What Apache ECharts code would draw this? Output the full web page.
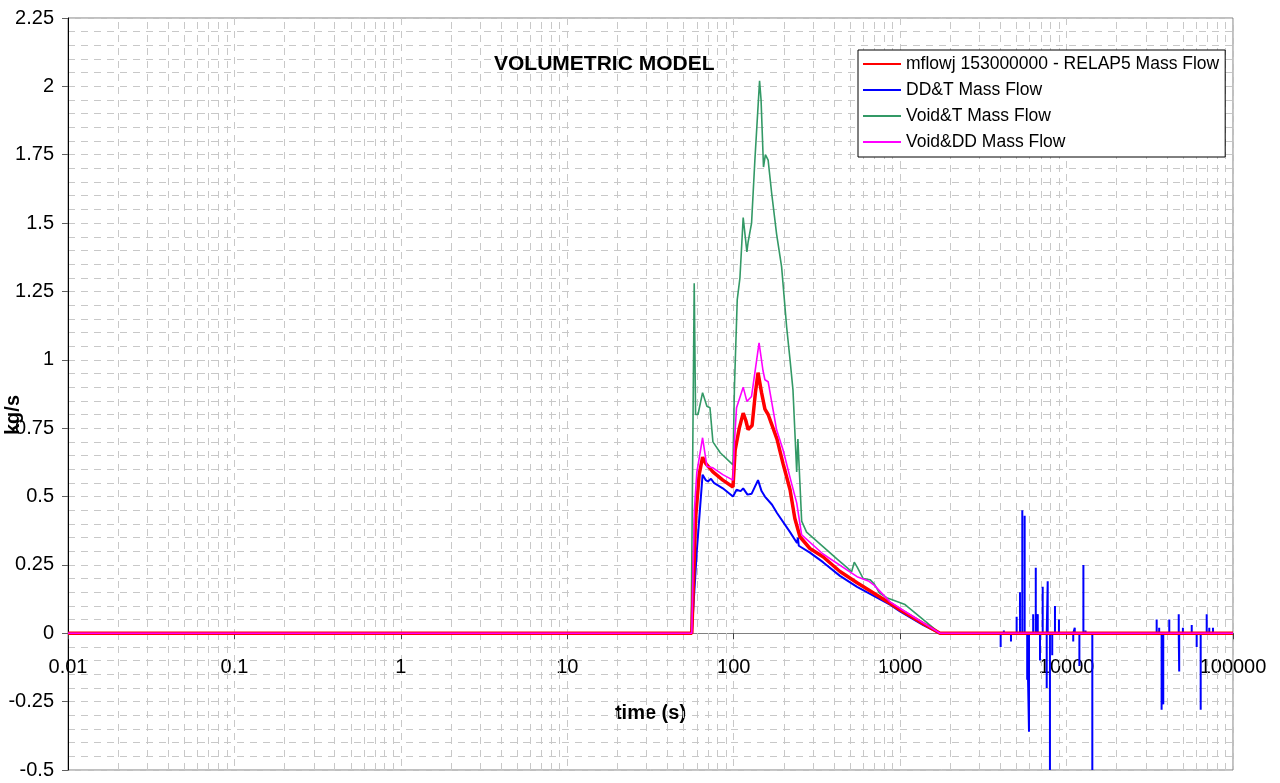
<!DOCTYPE html>
<html>
<head>
<meta charset="utf-8">
<title>Volumetric model</title>
<script src="https://cdn.jsdelivr.net/npm/echarts@6.0.0/dist/echarts.min.js"></script>
<style>
  html, body { margin: 0; padding: 0; background: #fff; }
  #chart { width: 1280px; height: 783px; }
</style>
</head>
<body>
<div id="chart"></div>
<script>
// ---------------- data (time s / kg/s) ----------------
var redT = [0.01, 56, 59, 62, 65, 68, 75, 86, 99, 102, 108, 114, 118, 122, 129, 135, 140, 147, 154, 161, 170, 182, 198, 218, 233, 250, 287, 344, 435, 551, 869, 998, 1377, 1735, 100000];
var redV = [0, 0, 0.42, 0.58, 0.644, 0.62, 0.59, 0.56, 0.535, 0.67, 0.75, 0.805, 0.78, 0.745, 0.76, 0.88, 0.953, 0.88, 0.82, 0.80, 0.76, 0.71, 0.62, 0.525, 0.42, 0.353, 0.31, 0.28, 0.226, 0.185, 0.11, 0.086, 0.035, 0, 0];

var blueT = [0.01, 56, 60, 65, 68, 70, 73, 76, 86, 99, 104, 110, 114, 121, 128, 140, 147, 154, 170, 182, 218, 240, 243, 246, 250, 287, 344, 435, 551, 869, 998, 1377, 1735, 3900];
var blueV = [0, 0, 0.3, 0.58, 0.56, 0.555, 0.565, 0.55, 0.53, 0.50, 0.525, 0.52, 0.53, 0.507, 0.51, 0.56, 0.52, 0.50, 0.47, 0.44, 0.37, 0.33, 0.35, 0.32, 0.325, 0.295, 0.26, 0.21, 0.17, 0.105, 0.08, 0.03, 0, 0];

// blue noise after 4000 s
var spikeT = [4018, 4200, 4634, 5012, 5248, 5420, 5600, 5800, 5946, 6300, 6531, 6714, 6924, 7188, 7598, 7703, 7945, 8200, 8517, 9000, 10965, 11200, 11940, 12620, 13000, 14280, 34780, 36000, 37240, 38100, 41400, 47200, 47500, 50000, 56500, 60500, 63950, 69500, 72000, 75800];
var spikeV = [-0.05, 0.01, -0.03, 0.06, 0.15, 0.45, 0.43, -0.17, -0.36, 0.07, 0.24, 0.07, -0.1, 0.17, -0.2, 0.19, -0.5, -0.08, 0.10, 0.05, -0.03, 0.02, -0.12, 0.25, 0.01, -0.5, 0.05, 0.02, -0.28, -0.26, 0.05, 0.07, -0.14, 0.02, 0.03, -0.05, -0.28, 0.07, 0.02, 0.02];

var greenT = [0.01, 55.5, 57.9, 59, 61, 65, 69, 72, 75, 83, 99, 101, 105, 109, 114, 120, 122, 128, 134, 143, 146, 151, 155, 161, 169, 181, 194, 208, 218, 227, 239, 243, 256, 274, 344, 420, 480, 511, 530, 551, 600, 659, 700, 750, 830, 1070, 1735, 100000];
var greenV = [0, 0, 1.28, 0.80, 0.80, 0.88, 0.83, 0.825, 0.70, 0.66, 0.616, 0.9, 1.22, 1.30, 1.52, 1.395, 1.43, 1.50, 1.73, 2.02, 1.95, 1.705, 1.75, 1.73, 1.61, 1.46, 1.34, 1.12, 1.0, 0.89, 0.59, 0.71, 0.41, 0.37, 0.317, 0.27, 0.24, 0.225, 0.26, 0.243, 0.2, 0.196, 0.18, 0.148, 0.13, 0.105, 0, 0];

var magT = [0.01, 56, 58, 60, 65, 69, 75, 86, 99, 101, 104, 114, 120, 128, 142, 150, 154, 161, 181, 198, 220, 239, 256, 344, 551, 650, 700, 869, 1030, 1735, 100000];
var magV = [0, 0, 0.45, 0.587, 0.715, 0.61, 0.605, 0.58, 0.56, 0.70, 0.825, 0.90, 0.848, 0.866, 1.062, 0.96, 0.927, 0.92, 0.744, 0.67, 0.56, 0.477, 0.36, 0.29, 0.207, 0.19, 0.175, 0.115, 0.086, 0, 0];

var names = ['mflowj 153000000 - RELAP5 Mass Flow', 'DD&T Mass Flow', 'Void&T Mass Flow', 'Void&DD Mass Flow'];

function zip(t, v) {
  var out = [];
  for (var i = 0; i < t.length; i++) out.push([t[i], v[i]]);
  return out;
}

var blueData = zip(blueT, blueV);
for (var i = 0; i < spikeT.length; i++) {
  blueData.push([spikeT[i], 0], [spikeT[i], spikeV[i]], [spikeT[i], 0]);
}
blueData.push([100000, 0]);

// log minor grid lines 2..9 per decade
var minorGrid = [];
for (var d = -2; d <= 4; d++) {
  for (var k = 2; k <= 9; k++) minorGrid.push({ xAxis: k * Math.pow(10, d) });
}

var yMin = -0.5, yMax = 2.25;
var gridTop = 18, gridBottom = 13, chartH = 783;
// x axis sits on y = 0 (moved up from the bottom of the grid)
var plotH = chartH - gridTop - gridBottom;
var xAxisOffset = -plotH * (0 - yMin) / (yMax - yMin);

var gridStyle = { color: '#c8c8c8', width: 1, type: [7, 6] };
var font = 'Liberation Sans, Arial, sans-serif';

var myChart = echarts.init(document.getElementById('chart'));
var option = {
  animation: false,
  textStyle: { fontFamily: font },
  title: {
    text: 'VOLUMETRIC MODEL',
    left: 489,
    top: 49,
    textStyle: { fontSize: 21, fontWeight: 'bold', color: '#000', fontFamily: font }
  },
  legend: {
    orient: 'vertical',
    left: 858,
    top: 50,
    data: names,
    backgroundColor: '#fff',
    borderColor: '#000',
    borderWidth: 1,
    padding: [5, 6, 6, 4],
    itemWidth: 38,
    itemHeight: 14,
    itemGap: 8,
    itemTextGap: 4,
    itemStyle: { color: 'rgba(0,0,0,0)', borderColor: 'rgba(0,0,0,0)', borderWidth: 0 },
    textStyle: { fontSize: 17.5, color: '#000', lineHeight: 18, fontFamily: font }
  },
  grid: {
    left: 68, right: 47, top: gridTop, bottom: gridBottom,
    outerBoundsMode: 'none',
    containLabel: false,
    show: true,
    borderColor: '#808080',
    borderWidth: 1
  },
  xAxis: {
    type: 'log',
    logBase: 10,
    min: 0.01,
    max: 100000,
    splitNumber: 7,
    position: 'bottom',
    offset: xAxisOffset,
    name: 'time (s)',
    nameLocation: 'middle',
    nameGap: 70,
    nameTextStyle: { fontSize: 20, fontWeight: 'bold', color: '#000', fontFamily: font },
    axisLine: { onZero: false, lineStyle: { color: '#808080' } },
    axisTick: { show: true, length: 6, lineStyle: { color: '#404040' } },
    axisLabel: {
      interval: 0, margin: 24, fontSize: 20, color: '#000', fontFamily: font,
      formatter: function (v) { return String(v); }
    },
    splitLine: { show: true, lineStyle: gridStyle }
  },
  yAxis: {
    type: 'value',
    min: yMin,
    max: yMax,
    interval: 0.25,
    axisLine: { show: true, onZero: false, lineStyle: { color: '#000' } },
    axisTick: { show: true, length: 6, lineStyle: { color: '#606060' } },
    axisLabel: { margin: 14, fontSize: 20, color: '#000', fontFamily: font },
    splitLine: { show: true, lineStyle: gridStyle },
    minorTick: { show: false, splitNumber: 5 },
    minorSplitLine: { show: true, lineStyle: gridStyle }
  },
  graphic: [{
    type: 'text',
    x: 13,
    y: 415,
    rotation: Math.PI / 2,
    style: {
      text: 'kg/s',
      fontSize: 20,
      fontWeight: 'bold',
      fontFamily: font,
      fill: '#000',
      textAlign: 'center',
      textVerticalAlign: 'middle'
    }
  }],
  series: [{
    name: names[1],
    type: 'line',
    symbol: 'none',
    color: '#0000ff',
    lineStyle: { width: 2 },
    data: blueData,
    markLine: {
      silent: true,
      symbol: 'none',
      z: 1,
      label: { show: false },
      lineStyle: gridStyle,
      emphasis: { disabled: true },
      data: minorGrid
    }
  }, {
    name: names[2],
    type: 'line',
    symbol: 'none',
    color: '#339966',
    lineStyle: { width: 1.6 },
    data: zip(greenT, greenV)
  }, {
    name: names[0],
    type: 'line',
    symbol: 'none',
    color: '#ff0000',
    lineStyle: { width: 3.5 },
    data: zip(redT, redV)
  }, {
    name: names[3],
    type: 'line',
    symbol: 'none',
    color: '#ff00ff',
    lineStyle: { width: 1.6 },
    data: zip(magT, magV)
  }]
};
myChart.setOption(option);
</script>
</body>
</html>
